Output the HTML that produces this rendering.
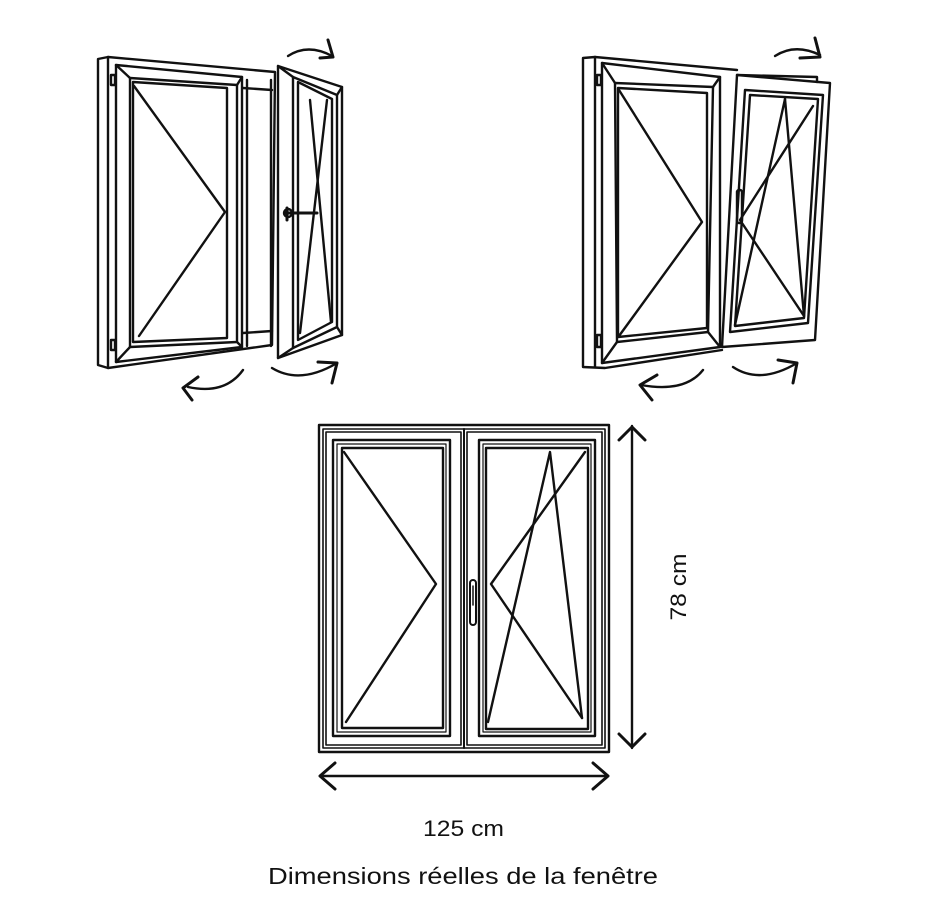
<!DOCTYPE html>
<html><head><meta charset="utf-8"><style>
html,body{margin:0;padding:0;background:#fff;}
svg{display:block;}
text{font-family:"Liberation Sans",sans-serif;fill:#111;}
</style></head><body>
<svg width="940" height="924" viewBox="0 0 940 924" xmlns="http://www.w3.org/2000/svg">
<g fill="none" stroke="#111" stroke-width="2.4" stroke-linejoin="round" stroke-linecap="round">
<!-- ===== Top-left window ===== -->
<polygon points="98,59 108,57 275,72 272,345 108,368 98,365"/>
<line x1="108" y1="57" x2="108" y2="368"/>
<polygon points="116,65 242,77 242,347 116,362"/>
<polygon points="130,78 237,85 237,342 130,347"/>
<polygon points="133,82 227,88 227,338 133,342"/>
<line x1="116" y1="65" x2="130" y2="78"/><line x1="242" y1="77" x2="237" y2="85"/>
<line x1="242" y1="347" x2="237" y2="342"/><line x1="116" y1="362" x2="130" y2="347"/>
<polyline points="134,86 225,212 139,336"/>
<line x1="243" y1="88" x2="272" y2="90"/><line x1="243" y1="333" x2="272" y2="331"/>
<line x1="247" y1="80" x2="247" y2="346"/>
<line x1="271" y1="80" x2="271" y2="346"/>
<rect x="111" y="75" width="4" height="10"/><rect x="111" y="340" width="4" height="10"/>
<!-- open sash -->
<polygon points="278,66 342,87 342,335 278,358"/>
<polygon points="293,77 337,95 337,327 293,348"/>
<polygon points="298,82 332,99 332,322 298,340"/>
<line x1="278" y1="66" x2="293" y2="77"/><line x1="342" y1="87" x2="337" y2="95"/>
<line x1="342" y1="335" x2="337" y2="327"/><line x1="278" y1="358" x2="293" y2="348"/>
<line x1="310" y1="100" x2="331" y2="322"/>
<line x1="327" y1="100" x2="300" y2="333"/>
<path d="M287,208 v12 M286,213 h31" stroke-width="3"/>
<circle cx="288" cy="213" r="4"/>
<!-- arrows -->
<path d="M288,56 Q308,43 332,56"/><polyline points="328,40 333,57 320,58" stroke-width="3"/>
<path d="M243,370 Q225,395 188,387"/><polyline points="198,377 183,388 192,400" stroke-width="3"/>
<path d="M272,368 Q300,385 337,363"/><polyline points="318,362 337,363 332,383" stroke-width="3"/>

<!-- ===== Top-right window ===== -->
<polyline points="737,75 817,77 817,82"/>
<polyline points="722,350 605,368 583,367 583,58 595,57 737,70"/>
<line x1="595" y1="57" x2="595" y2="367"/>
<polygon points="602,63 720,77 720,347 602,363"/>
<polygon points="615,83 713,87 708,332 617,342"/>
<polygon points="618,88 707,93 707,328 618,337"/>
<line x1="602" y1="63" x2="615" y2="83"/><line x1="720" y1="77" x2="713" y2="87"/>
<line x1="720" y1="347" x2="708" y2="332"/><line x1="602" y1="363" x2="617" y2="342"/>
<polyline points="619,90 702,222 619,336"/>
<rect x="597" y="75" width="4" height="10"/><rect x="597" y="335" width="4" height="12"/>
<!-- tilted sash -->
<polygon points="737,75 830,83 815,340 722,347"/>
<polygon points="745,90 823,95 808,323 730,332"/>
<polygon points="750,95 818,99 804,318 735,326"/>
<line x1="785" y1="99" x2="735" y2="325"/>
<line x1="785" y1="99" x2="804" y2="316"/>
<polyline points="813,106 740,220 804,316"/>
<rect x="737" y="190" width="5" height="33" rx="2"/>
<!-- arrows -->
<path d="M775,56 Q795,43 820,55"/><polyline points="815,38 820,57 800,58" stroke-width="3"/>
<path d="M703,370 Q685,393 641,385"/><polyline points="657,375 640,385 652,400" stroke-width="3"/>
<path d="M733,367 Q760,385 797,363"/><polyline points="778,360 797,363 793,383" stroke-width="3"/>

<!-- ===== Bottom window ===== -->
<rect x="319" y="425" width="290" height="327" stroke-width="2.4"/>
<rect x="323" y="429" width="282" height="319" stroke-width="1.6"/>
<rect x="326" y="432" width="135" height="313" stroke-width="1.6"/>
<rect x="333" y="440" width="117" height="296" stroke-width="2.4"/>
<rect x="337" y="444" width="109" height="288" stroke-width="1.2"/>
<rect x="342" y="448" width="101" height="280" stroke-width="2.4"/>
<polyline points="344,452 436,584 346,722"/>
<line x1="464" y1="429" x2="464" y2="748" stroke-width="2"/>
<rect x="467" y="432" width="135" height="313" stroke-width="1.6"/>
<rect x="479" y="440" width="116" height="296" stroke-width="2.4"/>
<rect x="483" y="444" width="108" height="288" stroke-width="1.2"/>
<rect x="486" y="448" width="102" height="281" stroke-width="2.4"/>
<polyline points="488,722 550,452 582,718"/>
<polyline points="585,452 491,584 582,718"/>
<rect x="470" y="580" width="6" height="45" rx="3" stroke-width="2"/>
<line x1="473" y1="586" x2="473" y2="605" stroke-width="1.5"/>
<!-- dimension arrows -->
<line x1="632" y1="426" x2="632" y2="748"/>
<polyline points="619,440 632,427 645,440" stroke-width="3"/>
<polyline points="619,734 632,747 645,734" stroke-width="3"/>
<line x1="320" y1="776" x2="608" y2="776"/>
<polyline points="335,763 320,776 335,789" stroke-width="3"/>
<polyline points="593,763 608,776 593,789" stroke-width="3"/>
</g>
<text x="0" y="0" font-size="22" text-anchor="middle" textLength="67" lengthAdjust="spacingAndGlyphs" transform="translate(686,587) rotate(-90)">78 cm</text>
<text x="423" y="836" font-size="22" textLength="81" lengthAdjust="spacingAndGlyphs">125 cm</text>
<text x="268" y="884" font-size="23" textLength="390" lengthAdjust="spacingAndGlyphs">Dimensions réelles de la fenêtre</text>
</svg>
</body></html>
